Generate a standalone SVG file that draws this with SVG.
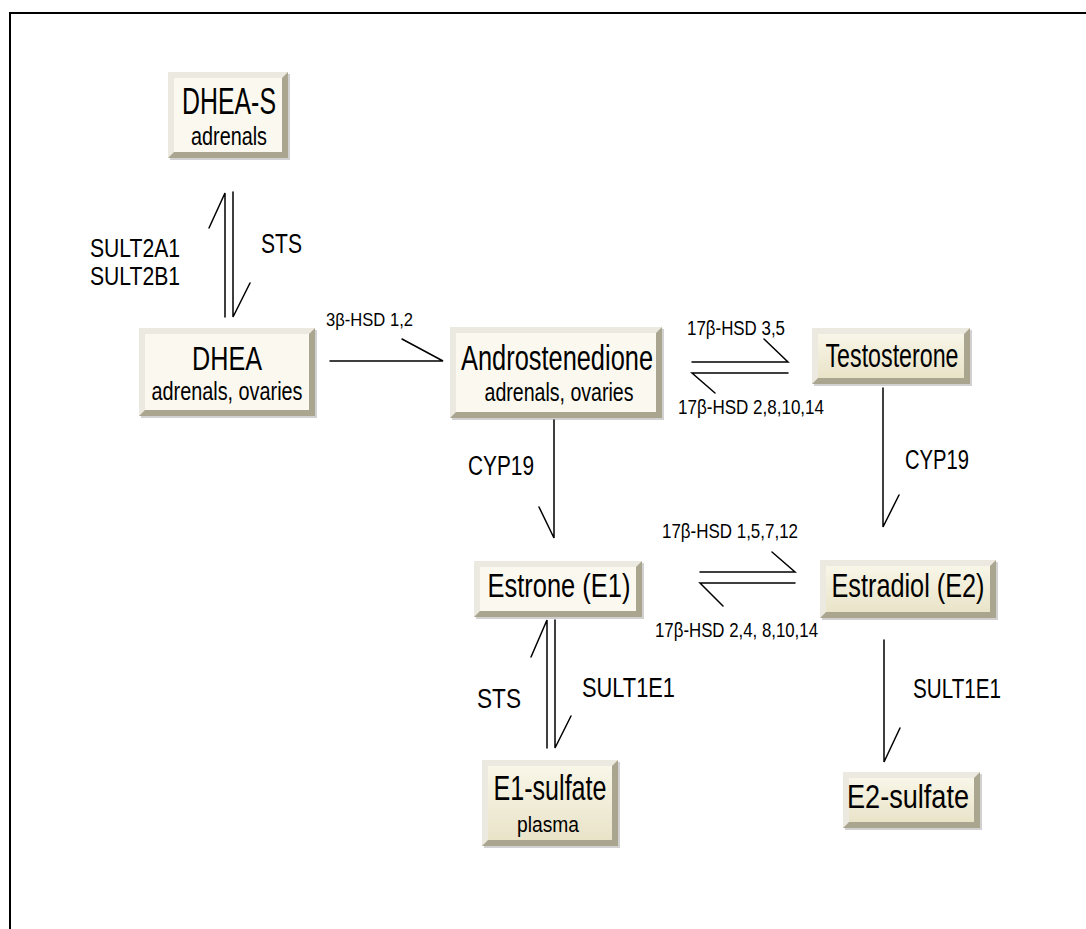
<svg xmlns="http://www.w3.org/2000/svg" width="1086" height="929" viewBox="0 0 1086 929">
<style>
text{font-family:"Liberation Sans Narrow","Liberation Sans",Arial,sans-serif;fill:#000}
.m{text-anchor:middle}
.ln{stroke:#000;stroke-width:1.5;fill:none;stroke-linecap:round}
.dk{fill:#A9A58F}
.lt{fill:#ECEAE0}
.fc{fill:#FBF9EF}
.ft{fill:url(#tan)}
.sh{fill:#000;opacity:.18}
</style>
<defs>
<linearGradient id="tan" x1="0" y1="0" x2="0" y2="1">
<stop offset="0" stop-color="#F8F6E8"/>
<stop offset="1" stop-color="#E9E3C8"/>
</linearGradient>
</defs>
<rect x="0" y="0" width="1086" height="929" fill="#fff"/>
<path d="M10,929 V13 H1086" fill="none" stroke="#000" stroke-width="2"/>

<g id="node-dheas">
<rect class="sh" x="170" y="74" width="120" height="86"/>
<rect class="dk" x="168" y="72" width="120" height="86"/>
<polygon class="lt" points="168,72 288,72 282,78 174,78 174,152 168,158"/>
<rect class="fc" x="174" y="78" width="108" height="74"/>
<text class="m" x="229" y="114" font-size="37" textLength="94" lengthAdjust="spacingAndGlyphs">DHEA-S</text>
<text class="m" x="229" y="145" font-size="25" textLength="76" lengthAdjust="spacingAndGlyphs">adrenals</text>
</g>

<g id="node-dhea">
<rect class="sh" x="141" y="330" width="176" height="88"/>
<rect class="dk" x="139" y="328" width="176" height="88"/>
<polygon class="lt" points="139,328 315,328 309,334 145,334 145,410 139,416"/>
<rect class="fc" x="145" y="334" width="164" height="76"/>
<text class="m" x="227" y="370" font-size="33" textLength="70" lengthAdjust="spacingAndGlyphs">DHEA</text>
<text class="m" x="227" y="400" font-size="26" textLength="151" lengthAdjust="spacingAndGlyphs">adrenals, ovaries</text>
</g>

<g id="node-andro">
<rect class="sh" x="452" y="329" width="212" height="91"/>
<rect class="dk" x="450" y="327" width="212" height="91"/>
<polygon class="lt" points="450,327 662,327 656,333 456,333 456,412 450,418"/>
<rect class="fc" x="456" y="333" width="200" height="79"/>
<text class="m" x="557" y="370" font-size="35" textLength="192" lengthAdjust="spacingAndGlyphs">Androstenedione</text>
<text class="m" x="559" y="401" font-size="26" textLength="149" lengthAdjust="spacingAndGlyphs">adrenals, ovaries</text>
</g>

<g id="node-testo">
<rect class="sh" x="814" y="330" width="158" height="56"/>
<rect class="dk" x="812" y="328" width="158" height="56"/>
<polygon class="lt" points="812,328 970,328 964,334 818,334 818,378 812,384"/>
<rect class="ft" x="818" y="334" width="146" height="44"/>
<text class="m" x="892" y="367" font-size="33" textLength="133" lengthAdjust="spacingAndGlyphs">Testosterone</text>
</g>

<g id="node-estrone">
<rect class="sh" x="476" y="563" width="168" height="56"/>
<rect class="dk" x="474" y="561" width="168" height="56"/>
<polygon class="lt" points="474,561 642,561 636,567 480,567 480,611 474,617"/>
<rect class="fc" x="480" y="567" width="156" height="44"/>
<text class="m" x="559" y="597" font-size="33" textLength="143" lengthAdjust="spacingAndGlyphs">Estrone (E1)</text>
</g>

<g id="node-estradiol">
<rect class="sh" x="822" y="562" width="176" height="58"/>
<rect class="dk" x="820" y="560" width="176" height="58"/>
<polygon class="lt" points="820,560 996,560 990,566 826,566 826,612 820,618"/>
<rect class="ft" x="826" y="566" width="164" height="46"/>
<text class="m" x="908" y="597" font-size="33" textLength="153" lengthAdjust="spacingAndGlyphs">Estradiol (E2)</text>
</g>

<g id="node-e1s">
<rect class="sh" x="484" y="762" width="136" height="86"/>
<rect class="dk" x="482" y="760" width="136" height="86"/>
<polygon class="lt" points="482,760 618,760 612,766 488,766 488,840 482,846"/>
<rect class="ft" x="488" y="766" width="124" height="74"/>
<text class="m" x="550" y="800" font-size="35" textLength="113" lengthAdjust="spacingAndGlyphs">E1-sulfate</text>
<text class="m" x="548" y="832" font-size="22" textLength="62" lengthAdjust="spacingAndGlyphs">plasma</text>
</g>

<g id="node-e2s">
<rect class="sh" x="845" y="774" width="137" height="56"/>
<rect class="dk" x="843" y="772" width="137" height="56"/>
<polygon class="lt" points="843,772 980,772 974,778 849,778 849,822 843,828"/>
<rect class="ft" x="849" y="778" width="125" height="44"/>
<text class="m" x="908" y="808" font-size="33" textLength="122" lengthAdjust="spacingAndGlyphs">E2-sulfate</text>
</g>

<g id="connectors">
<path class="ln" d="M225,317 V193 L209,228"/>
<path class="ln" d="M233,192 V317 L250,283"/>
<path class="ln" d="M330,361 H443 L402,339"/>
<path class="ln" d="M692,362 H788 L764,339"/>
<path class="ln" d="M788,373 H692 L715,393"/>
<path class="ln" d="M554,420 V538 L539,507"/>
<path class="ln" d="M883,388 V527 L899,495"/>
<path class="ln" d="M700,572 H795 L772,552"/>
<path class="ln" d="M795,583 H700 L723,606"/>
<path class="ln" d="M547,748 V620 L531,657"/>
<path class="ln" d="M555,620 V748 L571,716"/>
<path class="ln" d="M884,640 V762 L900,728"/>
</g>

<g id="labels">
<text x="90" y="257" font-size="26" textLength="90" lengthAdjust="spacingAndGlyphs">SULT2A1</text>
<text x="90" y="285" font-size="26" textLength="90" lengthAdjust="spacingAndGlyphs">SULT2B1</text>
<text x="261" y="253" font-size="27" textLength="41" lengthAdjust="spacingAndGlyphs">STS</text>
<text x="326" y="326" font-size="18" textLength="87" lengthAdjust="spacingAndGlyphs">3β-HSD 1,2</text>
<text x="687" y="335" font-size="20" textLength="98" lengthAdjust="spacingAndGlyphs">17β-HSD 3,5</text>
<text x="678" y="414" font-size="21" textLength="146" lengthAdjust="spacingAndGlyphs">17β-HSD 2,8,10,14</text>
<text x="468" y="475" font-size="27" textLength="66" lengthAdjust="spacingAndGlyphs">CYP19</text>
<text x="905" y="469" font-size="27" textLength="64" lengthAdjust="spacingAndGlyphs">CYP19</text>
<text x="662" y="538" font-size="21" textLength="136" lengthAdjust="spacingAndGlyphs">17β-HSD 1,5,7,12</text>
<text x="655" y="637" font-size="21" textLength="163" lengthAdjust="spacingAndGlyphs">17β-HSD 2,4, 8,10,14</text>
<text x="477" y="708" font-size="28" textLength="44" lengthAdjust="spacingAndGlyphs">STS</text>
<text x="582" y="697" font-size="28" textLength="93" lengthAdjust="spacingAndGlyphs">SULT1E1</text>
<text x="913" y="698" font-size="28" textLength="88" lengthAdjust="spacingAndGlyphs">SULT1E1</text>
</g>
</svg>
